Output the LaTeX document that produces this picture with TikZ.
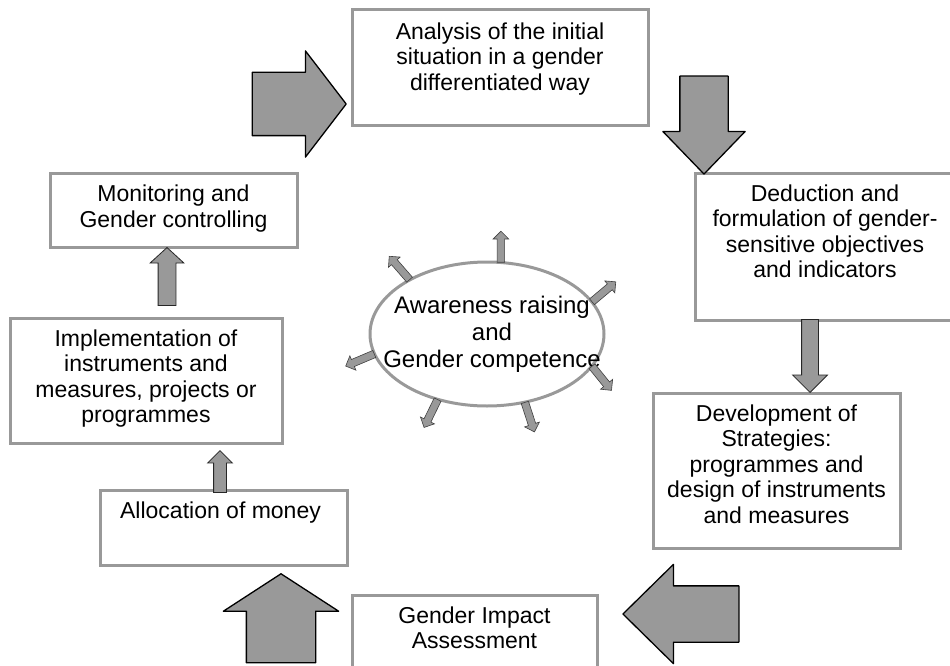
\documentclass[tikz,border=0pt]{standalone}
\usepackage{fontspec}
\setmainfont{Liberation Sans}
\usetikzlibrary{shapes.geometric,shapes.arrows}

\begin{document}
\begin{tikzpicture}[x=1pt,y=-1pt]
    %
    % `stage' is used for the grey framed boxes, `caption' for their texts.
    % `bigarrow' and `smallarrow' are the block arrows between the stages.
    % `ray' is used for the little arrows round the ellipse (`core').
    \tikzstyle{stage} = [draw=black!40,fill=white,line width=3pt,inner sep=0pt]
    \tikzstyle{caption} = [align=center,inner sep=0pt,anchor=north,font=\fontsize{23}{25.5}\selectfont]
    \tikzstyle{bigarrow} = [single arrow,draw=black,fill=black!40,line width=1.3pt,line join=round,inner xsep=0pt,anchor=tip]
    \tikzstyle{smallarrow} = [single arrow,draw=black!85,fill=black!40,line width=0.8pt,inner xsep=0pt,anchor=tip,single arrow tip angle=90]
    \tikzstyle{ray} = [single arrow,draw=black!75,fill=black!40,line width=0.6pt,inner xsep=0pt,inner ysep=3.5pt,single arrow head extend=4pt,single arrow tip angle=90,minimum height=31pt,anchor=tail]
    \tikzstyle{core} = [ellipse,draw=black!40,line width=3pt,minimum width=234pt,minimum height=144pt,inner sep=0pt,outer sep=0pt]
    %
    \useasboundingbox (0,0) rectangle (950,666);
    \clip (0,0) rectangle (950,666);
    %
    % Stages
    \node[stage,minimum width=296pt,minimum height=116pt] (s1) at (500,68) {};
    \node[stage,minimum width=260pt,minimum height=147pt] (s2) at (825,246.5) {};
    \node[stage,minimum width=247pt,minimum height=155pt] (s3) at (776.5,470.5) {};
    \node[stage,minimum width=245pt,minimum height=100pt] (s4) at (474.5,645) {};
    \node[stage,minimum width=247pt,minimum height=75pt] (s5) at (223.5,527.5) {};
    \node[stage,minimum width=272pt,minimum height=125pt] (s6) at (146,380.5) {};
    \node[stage,minimum width=247pt,minimum height=74pt] (s7) at (173.5,210.5) {};
    %
    % Stage texts
    \node[caption] (t1) at ([yshift=-14pt]s1.north) {Analysis of the initial\\situation in a gender\\differentiated way};
    \node[caption] (t2) at ([yshift=-13pt]s2.north) {Deduction and\\formulation of gender-\\sensitive objectives\\and indicators};
    \node[caption] (t3) at ([yshift=-13pt]s3.north) {Development of\\Strategies:\\programmes and\\design of instruments\\and measures};
    \node[caption] (t4) at ([yshift=-13pt]s4.north) {Gender Impact\\Assessment};
    \node[caption] (t5) at ([yshift=-13pt,xshift=-3pt]s5.north) {Allocation of money};
    \node[caption] (t6) at ([yshift=-13pt]s6.north) {Implementation of\\instruments and\\measures, projects or\\programmes};
    \node[caption] (t7) at ([yshift=-13pt]s7.north) {Monitoring and\\Gender controlling};
    %
    % Big arrows
    \node[bigarrow,inner ysep=31pt,single arrow head extend=21.5pt,single arrow tip angle=105,minimum height=94pt] (a1) at (347,104) {};
    \node[bigarrow,inner ysep=23.5pt,single arrow head extend=17pt,single arrow tip angle=88,minimum height=98pt,rotate=270] (a2) at (704,175) {};
    \node[bigarrow,inner ysep=27.5pt,single arrow head extend=21.5pt,single arrow tip angle=89,minimum height=116pt,rotate=180] (a3) at (622,614) {};
    \node[bigarrow,inner ysep=34pt,single arrow head extend=23pt,single arrow tip angle=114,minimum height=89pt,rotate=90] (a4) at (281,573) {};
    %
    % Small arrows
    \node[smallarrow,inner ysep=8pt,single arrow head extend=9pt,minimum height=73pt,rotate=270] (b1) at (810,393) {};
    \node[smallarrow,inner ysep=6pt,single arrow head extend=6pt,minimum height=42pt,rotate=90] (b2) at (220,450) {};
    \node[smallarrow,inner ysep=8.5pt,single arrow head extend=8pt,single arrow tip angle=95,minimum height=58pt,rotate=90] (b3) at (167,247) {};
    %
    % Centre
    \node[core] (aw) at (487,334) {};
    \node[font=\fontsize{24}{27}\selectfont,align=center,inner sep=0pt] (awt) at (492,334) {Awareness raising\\and\\Gender competence};
    %
    % Rays
    \node[ray,rotate=90] (r1) at (aw.79.6) {};
    \node[ray,rotate=131] (r2) at (aw.145.8) {};
    \node[ray,rotate=40] (r3) at (aw.17.7) {};
    \node[ray,rotate=203] (r4) at (aw.190.6) {};
    \node[ray,rotate=309] (r5) at (aw.-17.6) {};
    \node[ray,rotate=244] (r6) at (aw.-127) {};
    \node[ray,rotate=288] (r7) at (aw.-61.6) {};
    %
\end{tikzpicture}
\end{document}
